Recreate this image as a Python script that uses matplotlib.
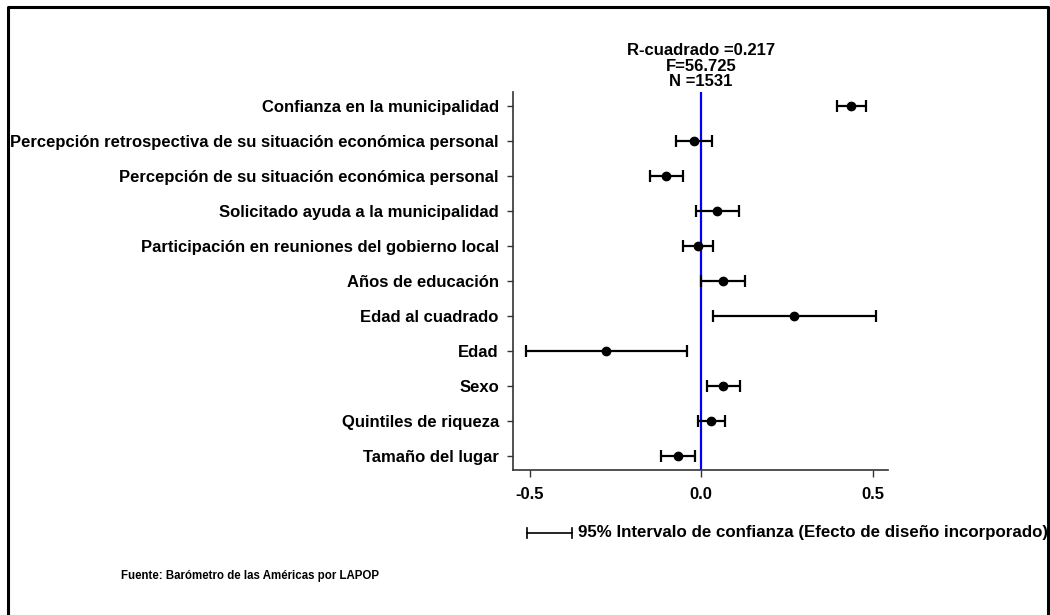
import matplotlib
matplotlib.use("Agg")
import matplotlib.pyplot as plt
from matplotlib.lines import Line2D

# Datos (coeficientes estandarizados e intervalos de confianza al 95%)
variables = [
    "Confianza en la municipalidad",
    "Percepción retrospectiva de su situación económica personal",
    "Percepción de su situación económica personal",
    "Solicitado ayuda a la municipalidad",
    "Participación en reuniones del gobierno local",
    "Años de educación",
    "Edad al cuadrado",
    "Edad",
    "Sexo",
    "Quintiles de riqueza",
    "Tamaño del lugar",
]
coeficientes = [0.437, -0.021, -0.103, 0.046, -0.009, 0.064, 0.272, -0.278, 0.064, 0.030, -0.068]
ic_inferior = [0.396, -0.074, -0.149, -0.015, -0.052, 0.000, 0.036, -0.511, 0.018, -0.010, -0.117]
ic_superior = [0.480, 0.032, -0.053, 0.110, 0.034, 0.129, 0.510, -0.041, 0.113, 0.071, -0.018]
ticks_x = [-0.5, 0.0, 0.5]
etiquetas_x = ["-0.5", "0.0", "0.5"]
estadisticos = ["R-cuadrado =0.217", "F=56.725", "N =1531"]

plt.rcParams['font.family'] = ['Liberation Sans', 'DejaVu Sans']
plt.rcParams['font.weight'] = 'bold'

fig = plt.figure(figsize=(10.5, 6.15), dpi=100)
ax = fig.add_axes([0.4883, 0.2358, 0.3577, 0.6141])

n = len(variables)
pos_y = list(range(n, 0, -1))
err_izq = [c - l for c, l in zip(coeficientes, ic_inferior)]
err_der = [u - c for c, u in zip(coeficientes, ic_superior)]

ax.axvline(0, color='#0000ff', lw=1.6, zorder=1)
ax.errorbar(coeficientes, pos_y, xerr=[err_izq, err_der], fmt='o', color='black',
            ms=6, elinewidth=1.6, capsize=4.4, capthick=1.6, zorder=3)

ax.set_xlim(-0.549, 0.546)
ax.set_ylim(0.6, n + 0.4)
ax.set_yticks(pos_y)
ax.set_yticklabels(variables, fontsize=12, fontweight='bold')
ax.set_xticks(ticks_x)
ax.set_xticklabels(etiquetas_x, fontsize=12, fontweight='bold')
ax.tick_params(axis='y', length=4, width=1, color='#333333', pad=6)
ax.tick_params(axis='x', length=5, width=1, color='#333333', pad=7)
for s in ['top', 'right']:
    ax.spines[s].set_visible(False)
for s in ['left', 'bottom']:
    ax.spines[s].set_color('#333333')
    ax.spines[s].set_linewidth(1.2)

# Estadísticos del modelo
ax.text(0, 1.008, "\n".join(estadisticos), transform=ax.get_xaxis_transform(),
        ha='center', va='bottom', fontsize=12, fontweight='bold', linespacing=1.04)

# Leyenda del intervalo de confianza
W, H = 1050, 615
yl = 1 - 533 / H
fig.add_artist(Line2D([527 / W, 572 / W], [yl, yl], color='black', lw=1.2))
for xc in (527, 572):
    fig.add_artist(Line2D([xc / W, xc / W], [yl - 5 / H, yl + 5 / H], color='black', lw=1.2))
fig.text(578 / W, yl, "95% Intervalo de confianza (Efecto de diseño incorporado)",
         ha='left', va='center', fontsize=12.2, fontweight='bold')

fig.text(121 / W, 1 - 576 / H, "Fuente: Barómetro de las Américas por LAPOP",
         ha='left', va='center', fontsize=8.3, fontweight='bold')

# Marco exterior
x0, x1, yt = 8 / W, 1048 / W, 1 - 7 / H
fig.add_artist(Line2D([x0, x0, x1, x1], [-0.01, yt, yt, -0.01], color='black', lw=2.2))

fig.savefig("out.png", dpi=100, facecolor='white')
